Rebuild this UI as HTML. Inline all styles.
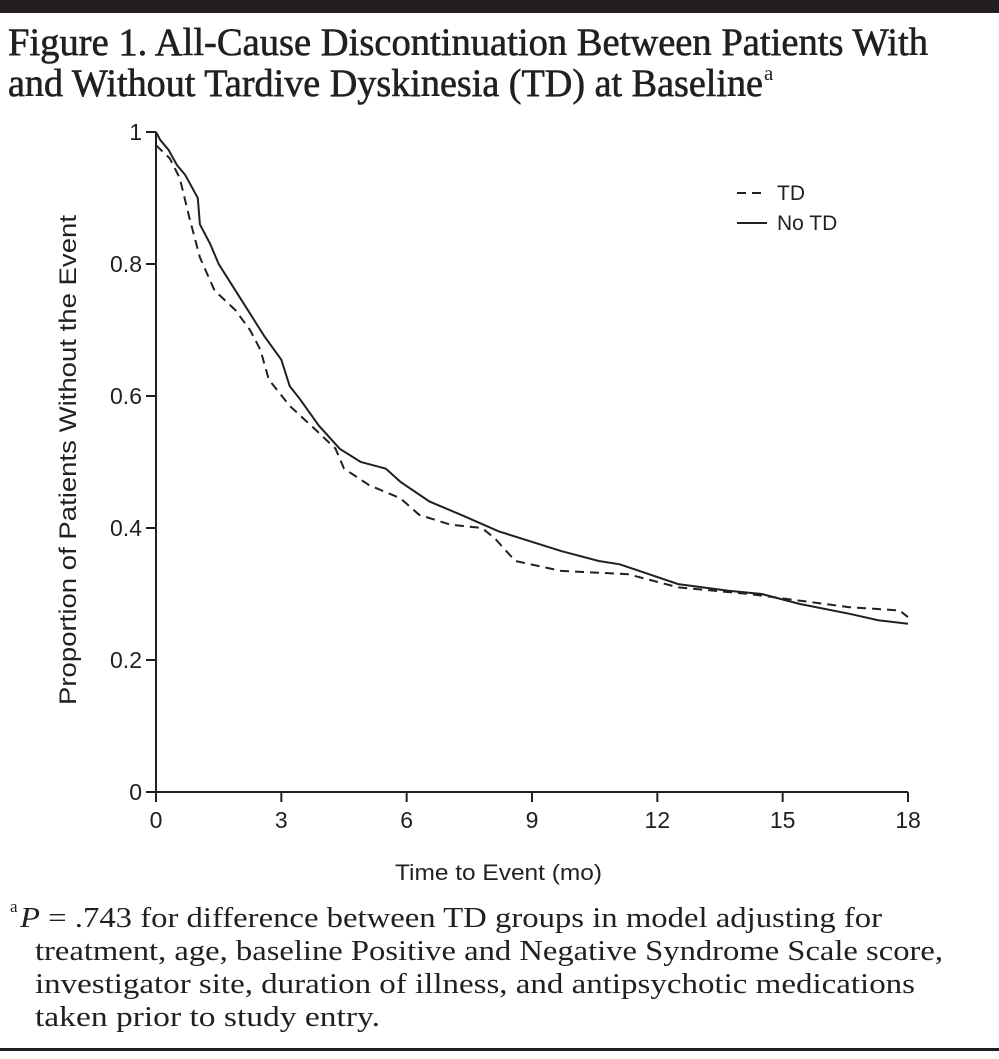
<!DOCTYPE html>
<html><head><meta charset="utf-8"><style>
html,body{margin:0;padding:0;background:#fff}
svg{display:block}
</style></head><body>
<svg id="chart" width="999" height="1059" xmlns="http://www.w3.org/2000/svg">
<rect x="0" y="0" width="999" height="13" fill="#231f20"/>
<g font-family="Liberation Serif, serif" fill="#231f20" stroke="#231f20" stroke-width="0.6">
<text x="8" y="55" font-size="39" textLength="920" lengthAdjust="spacingAndGlyphs">Figure 1. All-Cause Discontinuation Between Patients With</text>
<text x="8" y="96" font-size="39" textLength="755" lengthAdjust="spacingAndGlyphs">and Without Tardive Dyskinesia (TD) at Baseline</text>
<text x="764" y="80" font-size="21" stroke-width="0">a</text>
</g>
<g id="axes" font-family="Liberation Sans, sans-serif" fill="#231f20"></g>
<g id="series"></g>
<g font-family="Liberation Sans, sans-serif" font-size="21" fill="#231f20">
<line x1="737" y1="193" x2="767" y2="193" stroke="#231f20" stroke-width="2" stroke-dasharray="9,6"/>
<text x="777" y="200">TD</text>
<line x1="737" y1="223" x2="767" y2="223" stroke="#231f20" stroke-width="2"/>
<text x="777" y="230">No TD</text>
</g>
<text x="395" y="880" font-family="Liberation Sans, sans-serif" font-size="22" textLength="207" lengthAdjust="spacingAndGlyphs" fill="#231f20">Time to Event (mo)</text>
<text transform="translate(76,705) rotate(-90)" font-family="Liberation Sans, sans-serif" font-size="24" textLength="490" lengthAdjust="spacingAndGlyphs" fill="#231f20">Proportion of Patients Without the Event</text>
<g font-family="Liberation Serif, serif" font-size="29" fill="#231f20">
<text x="10" y="912" font-size="17">a</text>
<text x="20" y="927" textLength="862" lengthAdjust="spacingAndGlyphs"><tspan font-style="italic">P</tspan> = .743 for difference between TD groups in model adjusting for</text>
<text x="35" y="960" textLength="908" lengthAdjust="spacingAndGlyphs">treatment, age, baseline Positive and Negative Syndrome Scale score,</text>
<text x="35" y="993" textLength="880" lengthAdjust="spacingAndGlyphs">investigator site, duration of illness, and antipsychotic medications</text>
<text x="35" y="1026" textLength="345" lengthAdjust="spacingAndGlyphs">taken prior to study entry.</text>
</g>
<rect x="0" y="1048" width="999" height="3" fill="#231f20"/>
</svg>
<script>
const xTicks = [0, 3, 6, 9, 12, 15, 18];
const yTicks = [0, 0.2, 0.4, 0.6, 0.8, 1];
const yTickLabels = ["0", "0.2", "0.4", "0.6", "0.8", "1"];
const noTdTimes = [0,0.1,0.3,0.5,0.7,1.0,1.05,1.3,1.5,1.8,2.2,2.6,3.0,3.2,3.45,3.9,4.4,4.9,5.5,5.85,6.55,7.3,8.2,8.95,9.7,10.6,11.1,11.8,12.5,13.7,14.5,15.4,16.6,17.3,18];
const noTdValues = [1.0,0.988,0.973,0.95,0.935,0.9,0.86,0.83,0.8,0.77,0.73,0.69,0.655,0.615,0.595,0.555,0.52,0.5,0.49,0.47,0.44,0.42,0.395,0.38,0.365,0.35,0.345,0.33,0.315,0.305,0.3,0.285,0.27,0.26,0.255];
const tdTimes = [0,0.33,0.57,0.8,1.05,1.4,1.9,2.25,2.5,2.7,3.2,3.8,4.3,4.5,5.1,5.85,6.3,7.05,7.8,8.1,8.6,9.7,11.3,12.5,14.2,15.4,16.6,17.8,18];
const tdValues = [0.98,0.96,0.93,0.87,0.81,0.76,0.73,0.7,0.67,0.625,0.585,0.55,0.52,0.49,0.465,0.445,0.42,0.405,0.4,0.385,0.35,0.335,0.33,0.31,0.3,0.29,0.28,0.275,0.265];

const NS = "http://www.w3.org/2000/svg";
const X0 = 156, X1 = 908, Y0 = 792, Y1 = 132;
function xScale(t){ return X0 + (t - 0) / 18 * (X1 - X0); }
function yScale(v){ return Y0 - v * (Y0 - Y1); }
function mk(tag, attrs, parent){ const e = document.createElementNS(NS, tag); for (const k in attrs) e.setAttribute(k, attrs[k]); parent.appendChild(e); return e; }

const axes = document.getElementById('axes');
const xa = mk('line', {x1: X0, y1: Y0, x2: X1, y2: Y0, stroke: '#231f20', 'stroke-width': 2}, axes);


const ya = mk('line', {x1: X0, y1: Y0, x2: X0, y2: Y1, stroke: '#231f20', 'stroke-width': 2}, axes);


xTicks.forEach(t => {
  const x = xScale(t);
  const tk = mk('line', {x1: x, y1: Y0, x2: x, y2: Y0 + 10, stroke: '#231f20', 'stroke-width': 2}, axes);
  
  
  const lb = mk('text', {x: x, y: Y0 + 36, 'text-anchor': 'middle', 'font-size': 23}, axes);
  lb.textContent = String(t);
  
  
});
yTicks.forEach((v, i) => {
  const y = yScale(v);
  const tk = mk('line', {x1: X0 - 10, y1: y, x2: X0, y2: y, stroke: '#231f20', 'stroke-width': 2}, axes);
  
  
  const lb = mk('text', {x: X0 - 14, y: y + 8, 'text-anchor': 'end', 'font-size': 23}, axes);
  lb.textContent = yTickLabels[i];
  
  
});
const series = document.getElementById('series');
function pts(ts, vs){ return ts.map((t, i) => xScale(t).toFixed(1) + ',' + yScale(vs[i]).toFixed(1)).join(' '); }
const l1 = mk('polyline', {points: pts(tdTimes, tdValues), fill: 'none', stroke: '#231f20', 'stroke-width': 2, 'stroke-dasharray': '9,6'}, series);


const l2 = mk('polyline', {points: pts(noTdTimes, noTdValues), fill: 'none', stroke: '#231f20', 'stroke-width': 2}, series);


</script>
</body></html>
